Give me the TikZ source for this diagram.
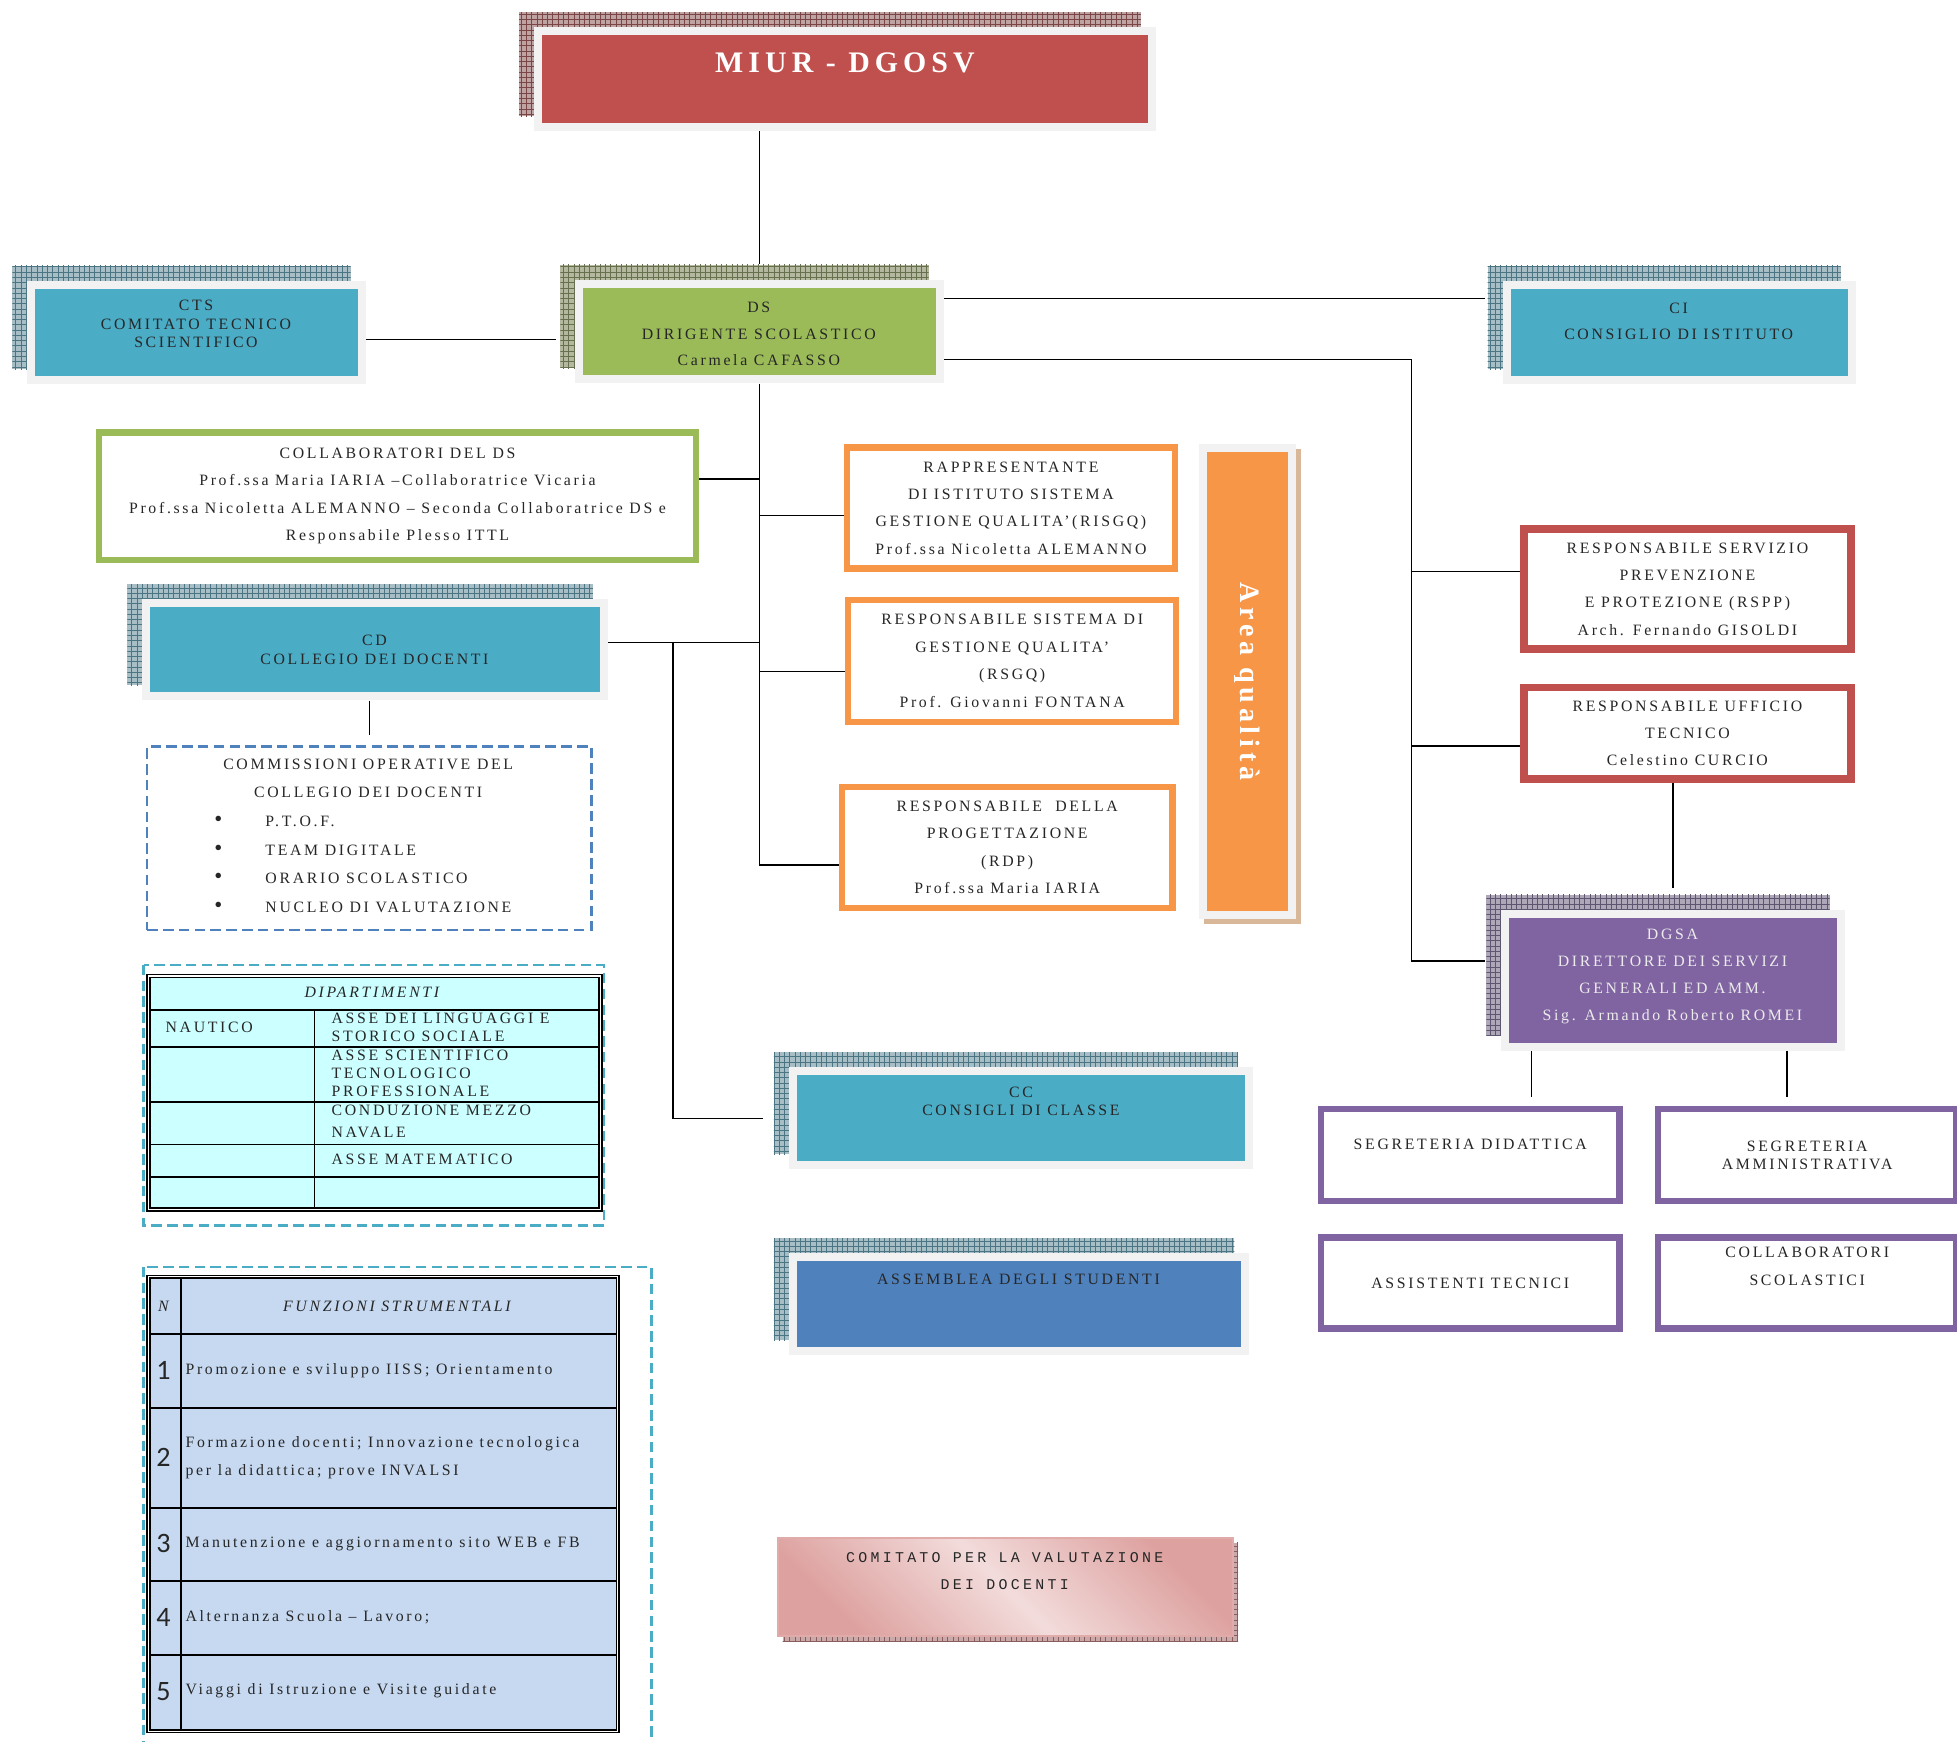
\documentclass[tikz,border=0pt]{standalone}
\usepackage{fontspec}
\setmainfont[LetterSpace=17]{Liberation Serif}
\newfontfamily\monofont[LetterSpace=22]{Liberation Mono}
\newfontfamily\numfont{Carlito}
\usetikzlibrary{patterns}

\newcommand{\upx}{0.025cm}

\definecolor{miurred}{HTML}{C0504D}
\definecolor{dsgreen}{HTML}{9BBB59}
\definecolor{ciblue}{HTML}{4BACC6}
\definecolor{assblue}{HTML}{4F81BD}
\definecolor{dgpurple}{HTML}{8064A2}
\definecolor{aqorange}{HTML}{F79646}
\definecolor{framegray}{HTML}{F2F2F2}
\definecolor{dipcyan}{HTML}{CCFFFF}
\definecolor{funzblue}{HTML}{C6D9F1}
\definecolor{cvpink}{HTML}{D99694}
\definecolor{cvlight}{HTML}{F2DCDB}
\definecolor{txtgray}{HTML}{262626}
% hatched shadows
\definecolor{redsh}{HTML}{BFA3A3}    \definecolor{redln}{HTML}{7A4545}
\definecolor{greensh}{HTML}{B3B89E}  \definecolor{greenln}{HTML}{66704F}
\definecolor{bluesh}{HTML}{A7BEC6}   \definecolor{blueln}{HTML}{4C7583}
\definecolor{purplesh}{HTML}{ADA7B8} \definecolor{purpleln}{HTML}{5E5570}
\definecolor{tansh}{HTML}{D9B89A}    \definecolor{tanln}{HTML}{9C7350}
\definecolor{pinksh}{HTML}{C9A9A9}   \definecolor{pinkln}{HTML}{8A5C5C}

\tikzset{
  blk/.style n args={3}{rectangle, inner sep=0pt, fill=framegray,
    preaction={fill=#2, transform canvas={shift={(-0.3cm,0.3cm)}}},
    preaction={pattern=grid, pattern color=#3, transform canvas={shift={(-0.3cm,0.3cm)}}},
    path picture={\fill[#1] ([shift={(0.16cm,-0.16cm)}]path picture bounding box.north west)
      rectangle ([shift={(-0.16cm,0.16cm)}]path picture bounding box.south east);}},
  txt/.style={align=center, inner sep=1pt, text=txtgray, font=\fontsize{9}{15.6}\selectfont},
  tight/.style={font=\fontsize{9}{10.5}\selectfont},
  obox/.style 2 args={rectangle, draw=#1, line width=#2*\upx, fill=white, inner sep=0pt,
    align=center, text=txtgray, font=\fontsize{9}{15.6}\selectfont},
  conn/.style={draw=black, line width=0.9pt},
  dashbox/.style={draw=#1, line width=1.3pt, dash pattern=on 6pt off 3pt},
  cell/.style={draw=black, line width=1pt},
  tabframe/.style={draw=black, line width=0.9pt, double=white, double distance=0.7pt},
  numtxt/.style={inner sep=1pt, text=txtgray, font=\numfont\fontsize{16}{18}\selectfont},
}

\begin{document}
\begin{tikzpicture}[x=0.025cm, y=-0.025cm]
\useasboundingbox (0,0) rectangle (1568,1395);

% coloured blocks with hatched shadow
\node[blk={miurred}{redsh}{redln}, minimum width=498*\upx, minimum height=83*\upx] (miur) at (677,63.5) {};
\node[blk={dsgreen}{greensh}{greenln}, minimum width=295*\upx, minimum height=83*\upx] (ds) at (608.5,265.5) {};
\node[blk={ciblue}{bluesh}{blueln}, minimum width=271*\upx, minimum height=83*\upx] (cts) at (157.5,266.5) {};
\node[blk={ciblue}{bluesh}{blueln}, minimum width=283*\upx, minimum height=83*\upx] (ci) at (1345.5,266.5) {};
\node[blk={ciblue}{bluesh}{blueln}, minimum width=373*\upx, minimum height=81*\upx] (cd) at (300.5,520.5) {};
\node[blk={dgpurple}{purplesh}{purpleln}, minimum width=275*\upx, minimum height=113*\upx] (dgsa) at (1340.5,785.5) {};
\node[blk={ciblue}{bluesh}{blueln}, minimum width=372*\upx, minimum height=82*\upx] (cc) at (818,896) {};
\node[blk={assblue}{bluesh}{blueln}, minimum width=369*\upx, minimum height=82*\upx] (ass) at (816.5,1045) {};

\node[txt, text=white, font=\fontsize{17}{20}\selectfont\bfseries] (miurt) at (677,50) {MIUR - DGOSV};
\node[txt, font=\fontsize{9}{15.2}\selectfont] (dst) at (608,267.5) {DS\\DIRIGENTE SCOLASTICO\\Carmela CAFASSO};
\node[txt, tight] (ctst) at (157,259.5) {CTS\\COMITATO TECNICO\\SCIENTIFICO};
\node[txt, font=\fontsize{9}{14.9}\selectfont] (cit) at (1345,257.5) {CI\\CONSIGLIO DI ISTITUTO};
\node[txt, tight] (cdt) at (300,520.5) {CD\\COLLEGIO DEI DOCENTI};
\node[txt, text=white!92!black, font=\fontsize{9}{15.4}\selectfont] (dgsat) at (1340,782.5) {DGSA\\DIRETTORE DEI SERVIZI\\GENERALI ED AMM.\\Sig. Armando Roberto ROMEI};
\node[txt, tight] (cct) at (818,882.5) {CC\\CONSIGLI DI CLASSE};
\node[txt] (asst) at (816,1025) {ASSEMBLEA DEGLI STUDENTI};

% outlined boxes
\node[obox={dsgreen}{5}, minimum width=478*\upx, minimum height=102*\upx] (collab) at (318.5,397.5)
  {COLLABORATORI DEL DS\\Prof.ssa Maria IARIA –Collaboratrice Vicaria\\Prof.ssa Nicoletta ALEMANNO – Seconda Collaboratrice DS e\\Responsabile Plesso ITTL};
\node[obox={aqorange}{5}, minimum width=263*\upx, minimum height=97*\upx] (risgq) at (810,407)
  {RAPPRESENTANTE\\DI ISTITUTO SISTEMA\\GESTIONE QUALITA’(RISGQ)\\Prof.ssa Nicoletta ALEMANNO};
\node[obox={aqorange}{5}, minimum width=263*\upx, minimum height=98*\upx] (rsgq) at (811,529.5)
  {RESPONSABILE SISTEMA DI\\GESTIONE QUALITA’\\(RSGQ)\\Prof. Giovanni FONTANA};
\node[obox={aqorange}{5}, minimum width=265*\upx, minimum height=97*\upx] (rdp) at (807,679)
  {RESPONSABILE\ \ DELLA\\PROGETTAZIONE\\(RDP)\\Prof.ssa Maria IARIA};
\node[obox={miurred}{6}, minimum width=262*\upx, minimum height=96*\upx] (rspp) at (1352,472)
  {RESPONSABILE SERVIZIO\\PREVENZIONE\\E PROTEZIONE (RSPP)\\Arch. Fernando GISOLDI};
\node[obox={miurred}{6}, minimum width=262*\upx, minimum height=73*\upx] (ut) at (1352,587.5)
  {RESPONSABILE UFFICIO\\TECNICO\\Celestino CURCIO};
\node[obox={dgpurple}{5}, minimum width=239*\upx, minimum height=74*\upx] (sd) at (1178,925.5)
  {SEGRETERIA DIDATTICA\\[-0.4em]};
\node[obox={dgpurple}{5}, minimum width=239*\upx, minimum height=74*\upx, font=\fontsize{9}{10}\selectfont] (sa) at (1448,925.5)
  {SEGRETERIA\\AMMINISTRATIVA};
\node[obox={dgpurple}{5}, minimum width=239*\upx, minimum height=73*\upx] (at) at (1178,1028)
  {ASSISTENTI TECNICI};
\node[obox={dgpurple}{5}, minimum width=239*\upx, minimum height=73*\upx] (cs) at (1448,1028)
  {COLLABORATORI\\SCOLASTICI\\[0.4em]};

% area qualita
\node[rectangle, fill=aqorange, minimum width=65*\upx, minimum height=368*\upx,
  preaction={draw=tansh, line width=0.3cm, transform canvas={shift={(0.1cm,-0.1cm)}}},
  preaction={draw=framegray, line width=0.3cm}] (aq) at (999.5,546) {};
\node[rotate=-90, text=white, font=\fontsize{16}{18}\selectfont\bfseries] (aqt) at (aq) {Area qualità};

% comitato valutazione
\node[rectangle, minimum width=365*\upx, minimum height=79*\upx, draw=cvpink!80, line width=1.2pt,
  top color=cvpink!85!cvlight, bottom color=cvpink!85!cvlight, middle color=cvlight, shading angle=-45,
  preaction={fill=pinksh, transform canvas={shift={(0.1cm,-0.1cm)}}},
  preaction={pattern=grid, pattern color=pinkln, transform canvas={shift={(0.1cm,-0.1cm)}}}] (cv) at (805.5,1271.5) {};
\node[txt, font=\monofont\fontsize{8.5}{15.6}\selectfont] (cvt) at (805,1259) {COMITATO PER LA VALUTAZIONE\\DEI DOCENTI};

% commissioni
\node[rectangle, dashbox=assblue, minimum width=356*\upx, minimum height=147*\upx] (comm) at (296,671.5) {};
\node[txt, font=\fontsize{9}{16.3}\selectfont] (commt) at (295,623.5) {COMMISSIONI OPERATIVE DEL\\COLLEGIO DEI DOCENTI};
\foreach \y/\t [count=\i] in {658/P.T.O.F., 681/TEAM DIGITALE, 704/ORARIO SCOLASTICO, 727/NUCLEO DI VALUTAZIONE} {
  \node[txt, font=\fontsize{13}{15}\selectfont] (bul\i) at (175,\y) {\textbullet};
  \node[txt, anchor=west] (com\i) at (211,\y) {\t};
}

% dipartimenti
\draw[dashbox=ciblue] (115,773) rectangle (484,982);
\fill[dipcyan] (119,782) rectangle (481,969);
\foreach \y in {809,839,883,917,943} \draw[cell] (119,\y) -- (481,\y);
\draw[cell] (252,809) -- (252,969);
\draw[tabframe] (119,782) rectangle (481,969);
\node[txt] (diph) at (298,795) {\itshape DIPARTIMENTI};
\node[txt, anchor=west] (dn) at (131,823) {NAUTICO};
\node[txt, tight, anchor=west, align=left] (d1) at (264,823) {ASSE DEI LINGUAGGI E\\STORICO SOCIALE};
\node[txt, tight, anchor=west, align=left] (d2) at (264,860) {ASSE SCIENTIFICO\\TECNOLOGICO\\PROFESSIONALE};
\node[txt, anchor=west, align=left, font=\fontsize{9}{12}\selectfont] (d3) at (264,898.5) {CONDUZIONE MEZZO\\NAVALE};
\node[txt, anchor=west] (d4) at (264,929) {ASSE MATEMATICO};

% funzioni strumentali
\draw[dashbox=ciblue] (115,1015) rectangle (522,1430);
\fill[funzblue] (119,1023) rectangle (495,1387);
\foreach \y in {1069,1128,1208,1267,1326} \draw[cell] (119,\y) -- (495,\y);
\draw[cell] (145,1023) -- (145,1387);
\draw[tabframe] (119,1023) rectangle (495,1387);
\node[txt] (fn) at (131,1047) {\itshape N};
\node[txt] (fh) at (318,1047) {\itshape FUNZIONI STRUMENTALI};
\foreach \y/\n in {1098/1, 1168/2, 1237/3, 1296/4, 1355/5}
  \node[numtxt] (n\n) at (131,\y) {\n};
\node[txt, anchor=west] (f1) at (147,1098) {Promozione e sviluppo IISS; Orientamento};
\node[txt, anchor=west, align=left] (f2) at (147,1168) {Formazione docenti; Innovazione tecnologica\\per la didattica; prove INVALSI};
\node[txt, anchor=west] (f3) at (147,1237) {Manutenzione e aggiornamento sito WEB e FB};
\node[txt, anchor=west] (f4) at (147,1296) {Alternanza Scuola – Lavoro;};
\node[txt, anchor=west] (f5) at (147,1355) {Viaggi di Istruzione e Visite guidate};

% connectors
\coordinate (busr) at (1131,500);
\coordinate (busl) at (539,700);
\coordinate (dgin) at ([yshift=0.39cm]dgsa.west);
\draw[conn, shorten >=12*\upx] (miur.south -| ds.north) -- (ds.north);
\draw[conn, shorten >=15*\upx] ([yshift=-0.14cm]cts.east) -- ([yshift=-0.14cm]cts.east -| ds.west);
\draw[conn, shorten >=14*\upx] ([yshift=0.66cm]ds.east) -- ([yshift=0.66cm]ds.east -| ci.west);
\draw[conn, shorten >=13*\upx] ([yshift=-0.56cm]ds.east) -- ([yshift=-0.56cm]ds.east -| busr)
  -- (busr |- dgin) -- (dgin);
\draw[conn] ([yshift=0.35cm]rspp.west) -- ([yshift=0.35cm]rspp.west -| busr);
\draw[conn] ([yshift=-0.26cm]ut.west) -- ([yshift=-0.26cm]ut.west -| busr);
\draw[conn, shorten >=17*\upx] (ut.south -| dgsa.north) -- (dgsa.north);
\draw[conn, shorten >=7*\upx] ([xshift=-113.5*\upx]dgsa.south) -- ([xshift=-113.5*\upx]dgsa.south |- sd.north);
\draw[conn, shorten >=7*\upx] ([xshift=91.5*\upx]dgsa.south) -- ([xshift=91.5*\upx]dgsa.south |- sa.north);
\draw[conn] (ds.south) |- ([yshift=-0.35cm]rdp.west);
\draw[conn] ([yshift=0.34cm]collab.east) -- ([yshift=0.34cm]collab.east -| ds.south);
\draw[conn] ([yshift=-0.15cm]risgq.west) -- ([yshift=-0.15cm]risgq.west -| ds.south);
\draw[conn] ([yshift=-0.21cm]rsgq.west) -- ([yshift=-0.21cm]rsgq.west -| ds.south);
\draw[conn] ([yshift=0.14cm]cd.east) -- ([yshift=0.14cm]cd.east -| ds.south);
\draw[conn, shorten >=20*\upx] ([yshift=0.14cm]cd.east -| busl) -- (busl |- cc.west) -- (cc.west);
\draw[conn, shorten >=8*\upx] (cd.south -| comm.north) -- (comm.north);
\end{tikzpicture}
\end{document}
